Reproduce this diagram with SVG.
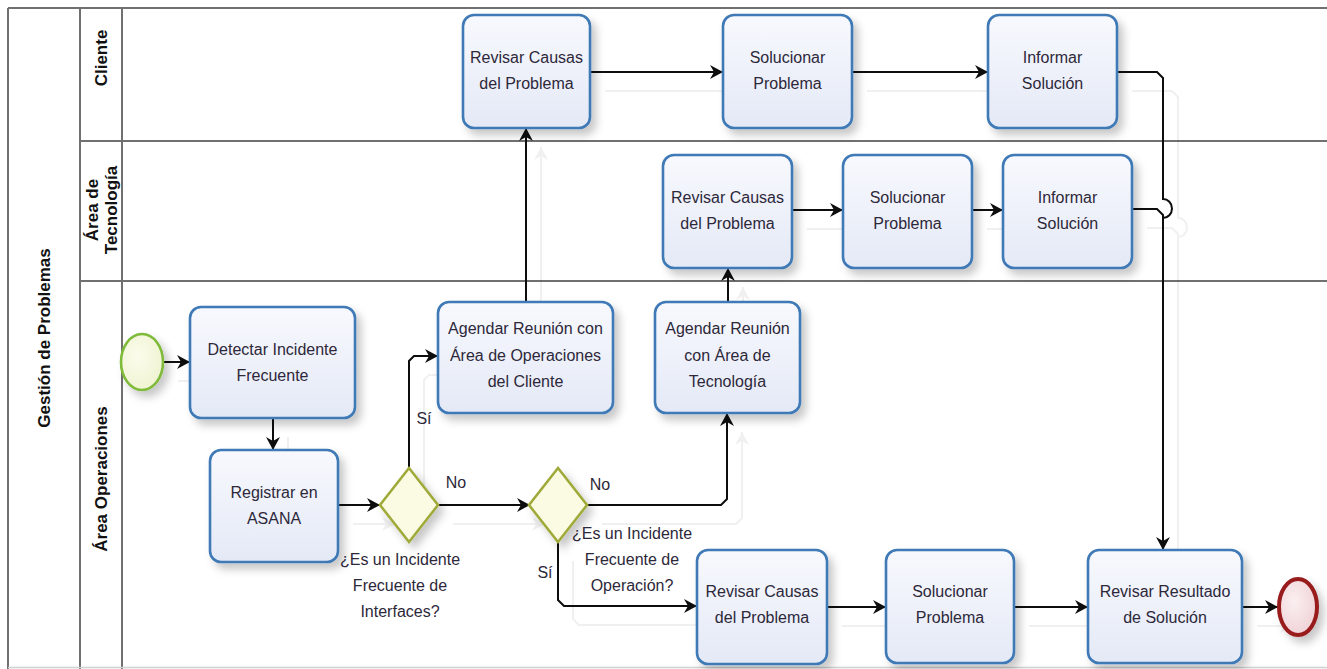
<svg xmlns="http://www.w3.org/2000/svg" width="1327" height="669" viewBox="0 0 1327 669">
  <defs>
    <linearGradient id="taskFill" x1="0" y1="0" x2="0" y2="1">
      <stop offset="0" stop-color="#f8f9fe"/>
      <stop offset="1" stop-color="#e4e9f6"/>
    </linearGradient>
    <radialGradient id="startFill" cx="0.4" cy="0.4" r="0.7">
      <stop offset="0" stop-color="#fbfcec"/>
      <stop offset="1" stop-color="#eef3cf"/>
    </radialGradient>
    <radialGradient id="endFill" cx="0.4" cy="0.4" r="0.7">
      <stop offset="0" stop-color="#fbeff0"/>
      <stop offset="1" stop-color="#eecfd4"/>
    </radialGradient>
    <filter id="nodeShadow" x="-20%" y="-20%" width="150%" height="150%">
      <feDropShadow dx="5" dy="6" stdDeviation="4" flood-color="#000" flood-opacity="0.22"/>
    </filter>
    <filter id="lineShadow" x="-5%" y="-5%" width="110%" height="115%">
      <feDropShadow dx="15" dy="19" stdDeviation="0.6" flood-color="#000" flood-opacity="0.06"/>
    </filter>
    <marker id="arrow" markerUnits="userSpaceOnUse" markerWidth="14" markerHeight="14" refX="13" refY="7" orient="auto">
      <path d="M0,0 L13,7 L0,14 L4,7 Z" fill="#111"/>
    </marker>
    <style>
      .lane { stroke: #707070; stroke-width: 2; fill: none; }
      .task { fill: url(#taskFill); stroke: #3f7ab6; stroke-width: 2.6; filter: url(#nodeShadow); }
      .gw { fill: #fbfbe4; stroke: #a0aa3a; stroke-width: 2.6; filter: url(#nodeShadow); }
      .start { fill: url(#startFill); stroke: #7fba3a; stroke-width: 2.6; filter: url(#nodeShadow); }
      .end { fill: url(#endFill); stroke: #981b1e; stroke-width: 4; filter: url(#nodeShadow); }
      .lbl { font-family: "Liberation Sans", Arial, sans-serif; font-size: 16px; fill: #2d283a; text-anchor: middle; }
      .hdr { font-family: "Liberation Sans", Arial, sans-serif; font-size: 17px; font-weight: bold; fill: #111; text-anchor: middle; }
      .flow { fill: none; stroke: #111; stroke-width: 2; }
      .flow .a { marker-end: url(#arrow); }
    </style>
  </defs>

  <rect width="1327" height="669" fill="#ffffff"/>

  <!-- pool and lanes -->
  <g id="pool">
    <line class="lane" x1="8" y1="8" x2="1327" y2="8"/>
    <line class="lane" x1="8" y1="8" x2="8" y2="669"/>
    <line class="lane" x1="80" y1="8" x2="80" y2="669"/>
    <line class="lane" x1="122" y1="8" x2="122" y2="669"/>
    <line class="lane" x1="80" y1="141" x2="1327" y2="141"/>
    <line class="lane" x1="80" y1="281" x2="1327" y2="281"/>
    <line x1="8" y1="667.5" x2="1327" y2="667.5" stroke="#d0d0d0" stroke-width="1.5"/>
    <text class="hdr" transform="translate(44,338) rotate(-90)" y="6">Gestión de Problemas</text>
    <text class="hdr" transform="translate(101,58) rotate(-90)" y="6">Cliente</text>
    <text class="hdr" transform="translate(101,210) rotate(-90)"><tspan x="0" y="-3">Área de</tspan><tspan x="0" y="16">Tecnología</tspan></text>
    <text class="hdr" transform="translate(101,479) rotate(-90)" y="6">Área Operaciones</text>
  </g>

  <!-- sequence flows -->
  <g id="connectors" class="flow" filter="url(#lineShadow)">
    <path class="a" d="M163,362 H190"/>
    <path class="a" d="M273,418 V450"/>
    <path class="a" d="M338,505 H380"/>
    <path class="a" d="M409,468 V361 L414,356 H438"/>
    <path class="a" d="M438,505 H530"/>
    <path class="a" d="M587,505 H721 L727,499 V413"/>
    <path class="a" d="M558,542 V600 L564,606 H697"/>
    <path class="a" d="M526,302 V128"/>
    <path class="a" d="M728,302 V268"/>
    <path class="a" d="M590,72 H723"/>
    <path class="a" d="M852,72 H988"/>
    <path class="a" d="M1117,72 H1157 L1163,78 V199 A9,9.5 0 0 1 1163,218 V550"/>
    <path class="a" d="M792,210 H843"/>
    <path class="a" d="M972,210 H1003"/>
    <path d="M1132,209 H1157 L1163,215 V230"/>
    <path class="a" d="M827,607 H886"/>
    <path class="a" d="M1014,607 H1088"/>
    <path class="a" d="M1242,607 H1278"/>
  </g>

  <!-- flow labels -->
  <g id="flow-labels">
    <text class="lbl" x="424" y="424">Sí</text>
    <text class="lbl" x="456" y="488">No</text>
    <text class="lbl" x="600" y="490">No</text>
    <text class="lbl" x="545" y="578">Sí</text>
  </g>

  <!-- Cliente lane -->
  <g id="cli-revisar">
    <rect class="task" x="463" y="15" width="127" height="113" rx="11"/>
    <text class="lbl"><tspan x="526.5" y="63">Revisar Causas</tspan><tspan x="526.5" y="89">del Problema</tspan></text>
  </g>
  <g id="cli-solucionar">
    <rect class="task" x="723" y="15" width="129" height="113" rx="11"/>
    <text class="lbl"><tspan x="787.5" y="63">Solucionar</tspan><tspan x="787.5" y="89">Problema</tspan></text>
  </g>
  <g id="cli-informar">
    <rect class="task" x="988" y="15" width="129" height="113" rx="11"/>
    <text class="lbl"><tspan x="1052.5" y="63">Informar</tspan><tspan x="1052.5" y="89">Solución</tspan></text>
  </g>

  <!-- Área de Tecnología lane -->
  <g id="tec-revisar">
    <rect class="task" x="663" y="155" width="129" height="113" rx="11"/>
    <text class="lbl"><tspan x="727.5" y="203">Revisar Causas</tspan><tspan x="727.5" y="229">del Problema</tspan></text>
  </g>
  <g id="tec-solucionar">
    <rect class="task" x="843" y="155" width="129" height="113" rx="11"/>
    <text class="lbl"><tspan x="907.5" y="203">Solucionar</tspan><tspan x="907.5" y="229">Problema</tspan></text>
  </g>
  <g id="tec-informar">
    <rect class="task" x="1003" y="155" width="129" height="113" rx="11"/>
    <text class="lbl"><tspan x="1067.5" y="203">Informar</tspan><tspan x="1067.5" y="229">Solución</tspan></text>
  </g>

  <!-- Área Operaciones lane -->
  <g id="start">
    <ellipse class="start" cx="142" cy="362" rx="21" ry="28"/>
  </g>
  <g id="ops-detectar">
    <rect class="task" x="190" y="307" width="165" height="111" rx="11"/>
    <text class="lbl"><tspan x="272.5" y="355">Detectar Incidente</tspan><tspan x="272.5" y="381">Frecuente</tspan></text>
  </g>
  <g id="ops-registrar">
    <rect class="task" x="210" y="450" width="128" height="112" rx="11"/>
    <text class="lbl"><tspan x="274" y="498">Registrar en</tspan><tspan x="274" y="524">ASANA</tspan></text>
  </g>
  <g id="gw-interfaces">
    <polygon class="gw" points="409,468 438,505 409,542 380,505"/>
    <text class="lbl"><tspan x="400" y="565">¿Es un Incidente</tspan><tspan x="400" y="591">Frecuente de</tspan><tspan x="400" y="617">Interfaces?</tspan></text>
  </g>
  <g id="gw-operacion">
    <polygon class="gw" points="558,468 587,505 558,542 529,505"/>
    <text class="lbl"><tspan x="632" y="539">¿Es un Incidente</tspan><tspan x="632" y="565">Frecuente de</tspan><tspan x="632" y="591">Operación?</tspan></text>
  </g>
  <g id="ops-agendar-cliente">
    <rect class="task" x="438" y="302" width="175" height="111" rx="11"/>
    <text class="lbl"><tspan x="525.5" y="334">Agendar Reunión con</tspan><tspan x="525.5" y="361">Área de Operaciones</tspan><tspan x="525.5" y="387">del Cliente</tspan></text>
  </g>
  <g id="ops-agendar-tecnologia">
    <rect class="task" x="655" y="302" width="145" height="111" rx="11"/>
    <text class="lbl"><tspan x="727.5" y="334">Agendar Reunión</tspan><tspan x="727.5" y="361">con Área de</tspan><tspan x="727.5" y="387">Tecnología</tspan></text>
  </g>
  <g id="ops-revisar">
    <rect class="task" x="697" y="550" width="130" height="114" rx="11"/>
    <text class="lbl"><tspan x="762" y="597">Revisar Causas</tspan><tspan x="762" y="623">del Problema</tspan></text>
  </g>
  <g id="ops-solucionar">
    <rect class="task" x="886" y="550" width="128" height="113" rx="11"/>
    <text class="lbl"><tspan x="950" y="597">Solucionar</tspan><tspan x="950" y="623">Problema</tspan></text>
  </g>
  <g id="ops-revisar-resultado">
    <rect class="task" x="1088" y="550" width="154" height="113" rx="11"/>
    <text class="lbl"><tspan x="1165" y="597">Revisar Resultado</tspan><tspan x="1165" y="623">de Solución</tspan></text>
  </g>
  <g id="end">
    <ellipse class="end" cx="1298" cy="607" rx="19" ry="28"/>
  </g>
</svg>
